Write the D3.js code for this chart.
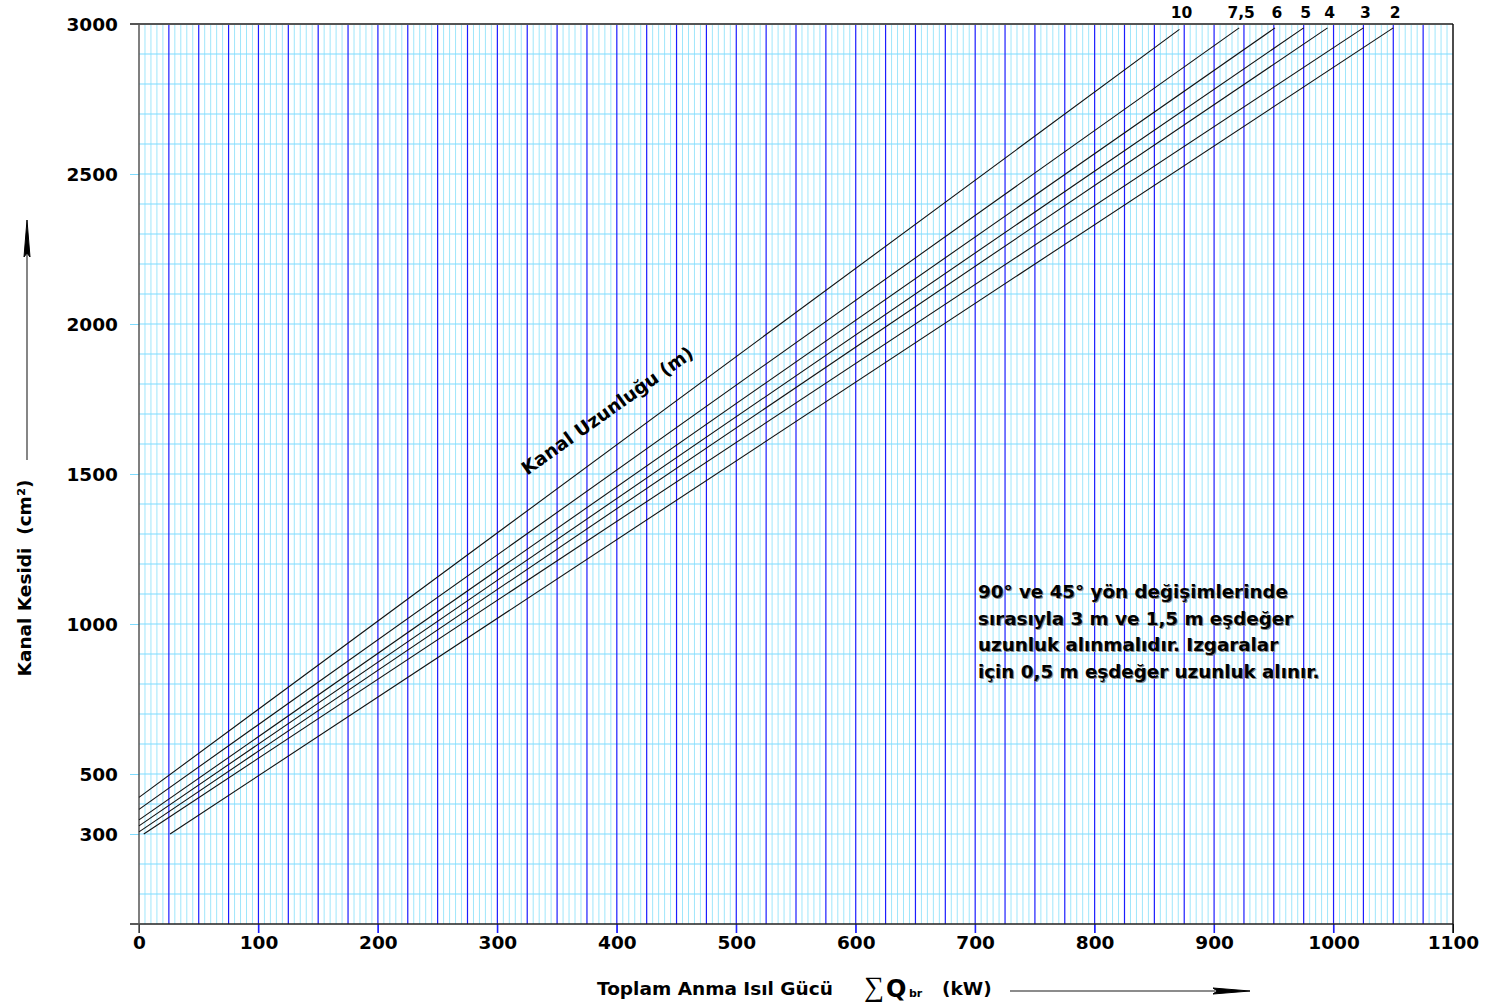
<!DOCTYPE html>
<html>
<head>
<meta charset="utf-8">
<script src="https://cdn.jsdelivr.net/npm/d3@7"></script>
<style>
  html, body { margin: 0; padding: 0; background: #fff; }
  svg text { font-family: "DejaVu Sans", sans-serif; font-weight: bold; }
</style>
</head>
<body>
<svg id="chart" width="1486" height="1006"></svg>
<script>
// Channel length curves (m) - start and end points
var lengths = ["10", "7,5", "6", "5", "4", "3", "2"];
var startQ = [0, 0, 0, 0, 0, 4, 26];          // kW
var startA = [422, 382, 347, 327, 307, 300, 300]; // cm²
var endQ = [871, 921, 951, 975, 995, 1025, 1050];
var endA = [2982, 2987, 2987, 2987, 2987, 2987, 2987];

var xTicks = [0, 100, 200, 300, 400, 500, 600, 700, 800, 900, 1000, 1100];
var yTicks = [300, 500, 1000, 1500, 2000, 2500, 3000];

var note = [
  "90° ve 45° yön değişimlerinde",
  "sırasıyla 3 m ve 1,5 m eşdeğer",
  "uzunluk alınmalıdır. Izgaralar",
  "için 0,5 m eşdeğer uzunluk alınır."
];

var svg = d3.select("#chart");

var x = d3.scaleLinear().domain([0, 1100]).range([139, 1453]);
var y = d3.scaleLinear().domain([0, 3000]).range([924, 24]);

var grid = svg.append("g");

// fine vertical grid every 5 kW
grid.selectAll(".vfine")
  .data(d3.range(5, 1100, 5).filter(function(d) { return d % 25 !== 0; }))
  .enter().append("line")
    .attr("x1", function(d) { return x(d); })
    .attr("x2", function(d) { return x(d); })
    .attr("y1", y(3000)).attr("y2", y(0))
    .attr("stroke", "#9fe6fb").attr("stroke-width", 1);

// horizontal grid every 100 cm²
grid.selectAll(".hgrid")
  .data(d3.range(100, 3000, 100))
  .enter().append("line")
    .attr("x1", x(0)).attr("x2", x(1100))
    .attr("y1", function(d) { return y(d); })
    .attr("y2", function(d) { return y(d); })
    .attr("stroke", "#7fdcff").attr("stroke-width", 1.2);

// blue vertical lines every 25 kW
grid.selectAll(".vmajor")
  .data(d3.range(25, 1100, 25))
  .enter().append("line")
    .attr("x1", function(d) { return x(d); })
    .attr("x2", function(d) { return x(d); })
    .attr("y1", y(3000))
    .attr("y2", function(d) { return d % 100 === 0 ? y(0) + 9 : y(0); })
    .attr("stroke", "#1c1cff").attr("stroke-width", 1.2);

// y axis
var yAxis = svg.append("g")
    .attr("transform", "translate(" + x(0) + ",0)")
    .call(d3.axisLeft(y).tickValues(yTicks).tickFormat(d3.format("d"))
      .tickSize(9).tickPadding(12).tickSizeOuter(0));
yAxis.select(".domain").remove();
yAxis.selectAll(".tick line").attr("stroke", function(d) { return d === 3000 ? "#555" : "#7fdcff"; });
yAxis.selectAll(".tick text")
    .attr("fill", "#000").style("font-size", "18.5px").attr("dy", "0.36em");

// x axis
var xAxis = svg.append("g")
    .attr("transform", "translate(0," + y(0) + ")")
    .call(d3.axisBottom(x).tickValues(xTicks).tickFormat(d3.format("d"))
      .tickSize(9).tickPadding(3).tickSizeOuter(0));
xAxis.select(".domain").remove();
xAxis.selectAll(".tick line").attr("stroke", function(d) { return (d === 0 || d === 1100) ? "#000" : "#1c1cff"; });
xAxis.selectAll(".tick text")
    .attr("fill", "#000").style("font-size", "18.5px");

// frame
svg.append("line").attr("x1", x(0) - 9).attr("x2", x(1100)).attr("y1", y(3000)).attr("y2", y(3000))
  .attr("stroke", "#555").attr("stroke-width", 2);
svg.append("line").attr("x1", x(0) - 9).attr("x2", x(1100)).attr("y1", y(0)).attr("y2", y(0))
  .attr("stroke", "#222").attr("stroke-width", 1.5);
svg.append("line").attr("x1", x(0)).attr("x2", x(0)).attr("y1", y(3000)).attr("y2", y(0) + 9)
  .attr("stroke", "#555").attr("stroke-width", 1.5);
svg.append("line").attr("x1", x(1100)).attr("x2", x(1100)).attr("y1", y(3000)).attr("y2", y(0) + 9)
  .attr("stroke", "#111").attr("stroke-width", 1.5);

// curves
var curves = lengths.map(function(l, i) {
  return { label: l, pts: [[startQ[i], startA[i]], [endQ[i], endA[i]]] };
});

var line = d3.line()
    .x(function(d) { return x(d[0]); })
    .y(function(d) { return y(d[1]); });

svg.selectAll(".curve")
  .data(curves)
  .enter().append("path")
    .attr("class", "curve")
    .attr("d", function(d) { return line(d.pts); })
    .attr("fill", "none")
    .attr("stroke", "#111")
    .attr("stroke-width", 1.1);

svg.selectAll(".clabel")
  .data(curves)
  .enter().append("text")
    .attr("x", function(d) { return x(d.pts[1][0]) + 2; })
    .attr("y", 18)
    .attr("text-anchor", "middle")
    .style("font-size", "15.5px")
    .text(function(d) { return d.label; });

// curve family title
svg.append("text")
    .attr("transform", "translate(611,416) rotate(-35.5)")
    .attr("text-anchor", "middle")
    .style("font-size", "18.5px")
    .text("Kanal Uzunluğu (m)");

// note, drawn twice to get the soft shadow
[["#888", 1], ["#000", 0]].forEach(function(s) {
  svg.append("text")
      .attr("x", 978 + s[1])
      .attr("y", 598 + s[1])
      .attr("fill", s[0])
      .style("font-size", "18.3px")
    .selectAll("tspan")
    .data(note)
    .enter().append("tspan")
      .attr("x", 978 + s[1])
      .attr("dy", function(d, i) { return i === 0 ? 0 : 26.5; })
      .text(function(d) { return d; });
});

// y label + arrow
svg.append("text")
    .attr("transform", "translate(31,578) rotate(-90)")
    .attr("text-anchor", "middle")
    .style("font-size", "18.5px")
    .style("white-space", "pre")
    .text("Kanal Kesidi  (cm²)");
svg.append("line").attr("x1", 27).attr("x2", 27).attr("y1", 460).attr("y2", 250)
  .attr("stroke", "#444").attr("stroke-width", 1.3);
svg.append("path").attr("d", "M27,220 L24,257 L27,253 L30,257 Z").attr("fill", "#000").attr("stroke", "#000");

// x label + arrow
svg.append("text").attr("x", 597).attr("y", 995).style("font-size", "18.5px")
    .text("Toplam Anma Isıl Gücü");
svg.append("text").attr("x", 864).attr("y", 996)
    .style("font-family", "'Liberation Serif', serif").style("font-weight", "normal")
    .style("font-size", "28px").text("∑");
svg.append("text").attr("x", 886).attr("y", 997).style("font-size", "24px").text("Q");
svg.append("text").attr("x", 909).attr("y", 997).style("font-size", "11px").text("br");
svg.append("text").attr("x", 942).attr("y", 995).style("font-size", "18.5px").text("(kW)");
svg.append("line").attr("x1", 1010).attr("x2", 1215).attr("y1", 991).attr("y2", 991)
  .attr("stroke", "#666").attr("stroke-width", 1.5);
svg.append("path").attr("d", "M1250,991 L1213,988 L1217,991 L1213,994 Z").attr("fill", "#000").attr("stroke", "#000");
</script>
</body>
</html>
